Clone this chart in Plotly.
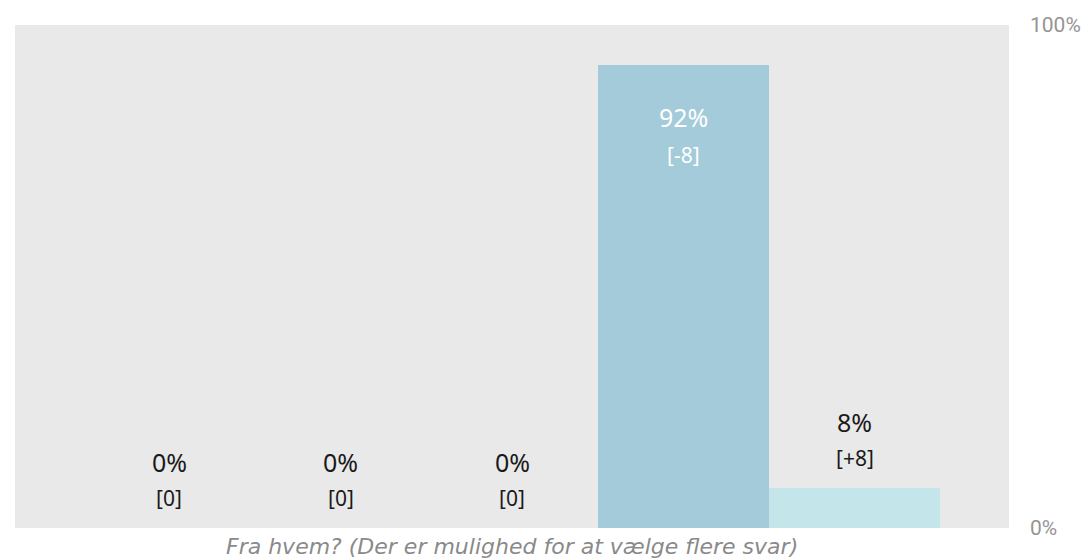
import plotly.graph_objects as go

# Survey answers: share of respondents per option and change since last round
categories = ["Svar 1", "Svar 2", "Svar 3", "Svar 4", "Svar 5"]
shares = [0, 0, 0, 92, 8]
changes = ["[0]", "[0]", "[0]", "[-8]", "[+8]"]
bar_colors = ["#a3cbd9", "#a3cbd9", "#a3cbd9", "#a3cbd9", "#c4e5ea"]
axis_title = "Fra hvem? (Der er mulighed for at vælge flere svar)"

FONT = "Noto Sans"

fig = go.Figure(
    go.Bar(
        x=list(range(len(categories))),
        y=[s / 100 for s in shares],
        marker=dict(color=bar_colors, line=dict(width=0)),
        hoverinfo="skip",
    )
)

annotations = []
for i, (s, c) in enumerate(zip(shares, changes)):
    y = s / 100
    inside = s > 50
    color = "white" if inside else "#1a1a1a"
    if inside:
        pct_shift, chg_shift = -52, -90
    else:
        pct_shift, chg_shift = 66, 30
    annotations.append(dict(
        x=i, y=y, xref="x", yref="y", text=f"{s}%", showarrow=False,
        yanchor="middle", yshift=pct_shift,
        font=dict(family=FONT, size=25, color=color),
    ))
    annotations.append(dict(
        x=i, y=y, xref="x", yref="y", text=c, showarrow=False,
        yanchor="middle", yshift=chg_shift,
        font=dict(family=FONT, size=21, color=color),
    ))

annotations.append(dict(
    x=0.5, y=0, xref="paper", yref="paper", text=f"<i>{axis_title}</i>",
    showarrow=False, yanchor="middle", yshift=-18,
    font=dict(family="DejaVu Sans", size=22, color="#8a8a8a"),
))

fig.update_layout(
    width=1087, height=559,
    margin=dict(l=15, r=78, t=25, b=31),
    paper_bgcolor="white",
    plot_bgcolor="#e9e9e9",
    bargap=0,
    showlegend=False,
    annotations=annotations,
    xaxis=dict(
        range=[-0.9, 4.9], showticklabels=False, showgrid=False,
        zeroline=False, fixedrange=True, automargin=False,
    ),
    yaxis=dict(
        range=[0, 1], side="right", tickvals=[0, 1], ticktext=["0%", "100%"],
        showgrid=False, zeroline=False, ticks="", ticklabelstandoff=20,
        tickfont=dict(family="Roboto", size=21, color="#959595"),
        fixedrange=True, automargin=False,
    ),
)

fig.write_html("out.html", config={"displayModeBar": False})
